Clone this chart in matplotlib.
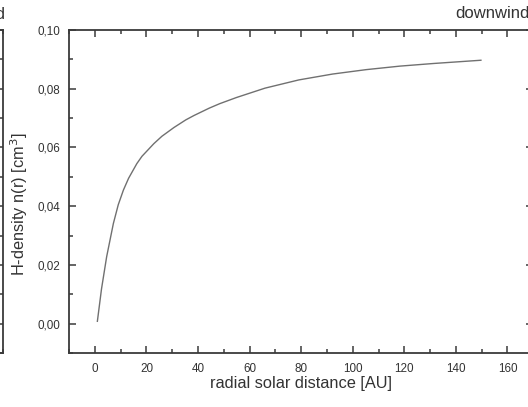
import numpy as np
import matplotlib.pyplot as plt
from matplotlib.ticker import MultipleLocator, FuncFormatter

plt.rcParams['font.family'] = ['Liberation Sans', 'DejaVu Sans']

# Leitura aproximada da curva (r em AU, n em cm^-3)
r_au = [1.0, 2.6, 4.6, 7.2, 9.1, 11.1, 13.1, 16.3, 18.3, 22.9, 26.0, 30.7,
        35.3, 38.5, 44.4, 48.4, 54.9, 66.0, 79.1, 92.2, 105.2, 118.3, 131.4, 149.7]
n_h = [0.0008, 0.0118, 0.0228, 0.0341, 0.0405, 0.0455, 0.0495, 0.0545, 0.0570,
       0.0613, 0.0638, 0.0668, 0.0694, 0.0709, 0.0734, 0.0749, 0.0770, 0.0802,
       0.0830, 0.0850, 0.0865, 0.0877, 0.0886, 0.0897]

cor_eixo = '#3a3a3a'
cor_texto = '#333333'

fig = plt.figure(figsize=(5.28, 4.07), dpi=100)

def estilo(ax):
    ax.set_xlim(-10, 170)
    ax.set_ylim(-0.01, 0.10)
    ax.xaxis.set_major_locator(MultipleLocator(20))
    ax.xaxis.set_minor_locator(MultipleLocator(10))
    ax.yaxis.set_major_locator(MultipleLocator(0.02))
    ax.yaxis.set_minor_locator(MultipleLocator(0.01))
    ax.tick_params(which='both', direction='in', top=True, right=True,
                   color=cor_eixo, width=1.1, labelcolor=cor_texto, labelsize=8.4)
    ax.tick_params(which='major', length=5)
    ax.tick_params(which='minor', length=3)
    ax.tick_params(axis='x', pad=7)
    ax.tick_params(axis='y', pad=6)
    ax.patch.set_visible(False)
    for s in ax.spines.values():
        s.set_color(cor_eixo)
        s.set_linewidth(1.3)

# painel vizinho (cortado à esquerda)
ax0 = fig.add_axes([-0.9, 1 - 353 / 407, 0.9 + 2.5 / 528, 323 / 407])
estilo(ax0)
ax0.set_xticklabels([])
ax0.set_yticklabels([])
fig.text(6 / 528, 1 - 14 / 407, 'upwind', ha='right', va='center',
         fontsize=12, color=cor_texto)

# painel principal
ax = fig.add_axes([69 / 528, 1 - 353 / 407, (528 - 69) / 528 + 0.01, 323 / 407])
estilo(ax)
ax.plot(r_au, n_h, color='#707070', linewidth=1.0)
ax.yaxis.set_major_formatter(FuncFormatter(lambda v, p: f'{v:.2f}'.replace('.', ',')))
ax.xaxis.set_major_formatter(FuncFormatter(lambda v, p: f'{v:.0f}'))
ax.set_xlabel('radial solar distance [AU]', fontsize=11.8, color=cor_texto, labelpad=1)
ax.set_ylabel('H-density n(r) [cm$^{3}$]', fontsize=11.8, color=cor_texto)
ax.yaxis.set_label_coords(-0.083, 0.46)
fig.text(455 / 528, 1 - 14 / 407, 'downwind', ha='left', va='center',
         fontsize=12, color=cor_texto)

plt.savefig('out.png', dpi=100)
